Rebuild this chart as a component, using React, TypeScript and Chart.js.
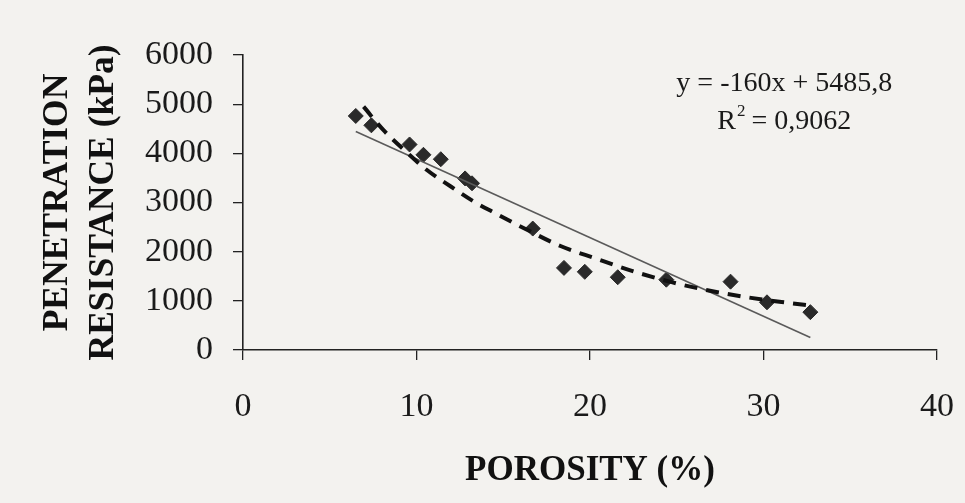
import React, { useEffect, useRef } from "react";
import { Chart, registerables } from "chart.js";

Chart.register(...registerables);

// Measured data (porosity %, penetration resistance kPa)
const porosity = [6.5, 7.4, 9.6, 10.4, 11.4, 12.8, 13.2, 16.7, 18.5, 19.7, 21.6, 24.4, 28.1, 30.2, 32.7];
const resistance = [4760, 4570, 4180, 3970, 3880, 3490, 3390, 2470, 1670, 1590, 1480, 1430, 1390, 970, 770];

// Linear trend line y = -160x + 5485,8 (end points as drawn)
const trendX = [6.5, 32.7];
const trendY = [4446, 254];

// Dashed curved fit
const curveX = [6.95, 8.1, 9.5, 10.6, 12.0, 13.3, 14.5, 16.4, 18.3, 20.3, 22.6, 24.7, 26.7, 29.1, 31.4, 32.8];
const curveY = [4950, 4470, 4000, 3660, 3320, 3020, 2790, 2440, 2115, 1865, 1590, 1380, 1220, 1070, 960, 900];

const xTicks = [0, 10, 20, 30, 40];
const yTicks = [0, 1000, 2000, 3000, 4000, 5000, 6000];

const equationText = "y = -160x + 5485,8";
const r2Value = "0,9062";

const SERIF = '"Liberation Serif", "Times New Roman", serif';

const annotationPlugin = {
  id: "equationAnnotation",
  afterDatasetsDraw(chart: any) {
    const ctx = chart.ctx;
    const xs = chart.scales.x;
    const ys = chart.scales.y;
    const cx = xs.getPixelForValue(31.2);
    const y1 = ys.getPixelForValue(5420);
    const y2 = ys.getPixelForValue(4650);
    ctx.save();
    ctx.fillStyle = "#1a1a1a";
    ctx.textBaseline = "middle";
    const mainFont = "28px " + SERIF;
    const supFont = "17px " + SERIF;
    ctx.font = mainFont;
    ctx.textAlign = "center";
    ctx.fillText(equationText, cx, y1);
    // R² = value
    const wR = ctx.measureText("R").width;
    const rest = " = " + r2Value;
    const wRest = ctx.measureText(rest).width;
    ctx.font = supFont;
    const wSup = ctx.measureText("2").width;
    const total = wR + wSup + wRest;
    let x = cx - total / 2;
    ctx.textAlign = "left";
    ctx.font = mainFont;
    ctx.fillText("R", x, y2);
    x += wR;
    ctx.font = supFont;
    ctx.fillText("2", x + 1, y2 - 10);
    x += wSup;
    ctx.font = mainFont;
    ctx.fillText(rest, x, y2);
    ctx.restore();
  },
};

export default function App() {
  const canvasRef = useRef<HTMLCanvasElement | null>(null);

  useEffect(() => {
    if (!canvasRef.current) return;
    const chart = new Chart(canvasRef.current, {
      type: "scatter",
      data: {
        datasets: [
          {
            label: "Curve",
            data: curveX.map((x, i) => ({ x, y: curveY[i] })),
            showLine: true,
            borderColor: "#111111",
            borderWidth: 4,
            borderDash: [13, 9],
            pointRadius: 0,
            cubicInterpolationMode: "monotone",
            fill: false,
          },
          {
            label: "Linear",
            data: trendX.map((x, i) => ({ x, y: trendY[i] })),
            showLine: true,
            borderColor: "#5a5a5a",
            borderWidth: 1.6,
            pointRadius: 0,
            fill: false,
          },
          {
            label: "Data",
            data: porosity.map((x, i) => ({ x, y: resistance[i] })),
            pointStyle: "rectRot",
            pointRadius: 7.5,
            backgroundColor: "#2a2a2a",
            borderColor: "#2a2a2a",
            borderWidth: 1,
          },
        ],
      },
      options: {
        animation: false,
        responsive: true,
        maintainAspectRatio: false,
        layout: { padding: { left: 0, top: 55, right: 28, bottom: 0 } },
        plugins: {
          legend: { display: false },
          tooltip: { enabled: false },
        },
        scales: {
          x: {
            type: "linear",
            min: 0,
            max: 40,
            afterBuildTicks: (scale: any) => {
              scale.ticks = xTicks.map((v) => ({ value: v }));
            },
            afterFit: (scale: any) => {
              scale.height = 153;
              scale.paddingLeft = 0;
              scale.paddingRight = 0;
            },
            grid: {
              display: true,
              drawOnChartArea: false,
              drawTicks: true,
              tickLength: 10,
              color: "#222",
              lineWidth: 1.3,
            },
            border: { display: true, color: "#222", width: 1.6 },
            ticks: {
              color: "#1a1a1a",
              padding: 27,
              font: { family: SERIF, size: 34 },
              callback: (v: any) => String(v),
            },
            title: {
              display: true,
              text: "POROSITY (%)",
              color: "#111",
              font: { family: SERIF, size: 35, weight: "bold" },
              padding: { top: 0, bottom: 11 },
            },
          },
          y: {
            type: "linear",
            min: 0,
            max: 6000,
            afterBuildTicks: (scale: any) => {
              scale.ticks = yTicks.map((v) => ({ value: v }));
            },
            afterFit: (scale: any) => {
              scale.width = 243;
              scale.paddingTop = 0;
              scale.paddingBottom = 0;
            },
            grid: {
              display: true,
              drawOnChartArea: false,
              drawTicks: true,
              tickLength: 10,
              color: "#222",
              lineWidth: 1.3,
            },
            border: { display: true, color: "#222", width: 1.6 },
            ticks: {
              color: "#1a1a1a",
              padding: 20,
              font: { family: SERIF, size: 34 },
              callback: (v: any) => String(v),
            },
            title: {
              display: true,
              text: ["PENETRATION", "RESISTANCE (kPa)"],
              color: "#111",
              font: { family: SERIF, size: 35.5, weight: "bold", lineHeight: 46 / 35.5 },
              padding: { top: 35, bottom: 0 },
            },
          },
        },
      },
      plugins: [annotationPlugin],
    });
    return () => chart.destroy();
  }, []);

  return (
    <div
      style={{
        position: "fixed",
        left: 0,
        top: 0,
        width: 965,
        height: 503,
        background: "#f3f2ef",
      }}
    >
      <canvas ref={canvasRef} />
    </div>
  );
}
